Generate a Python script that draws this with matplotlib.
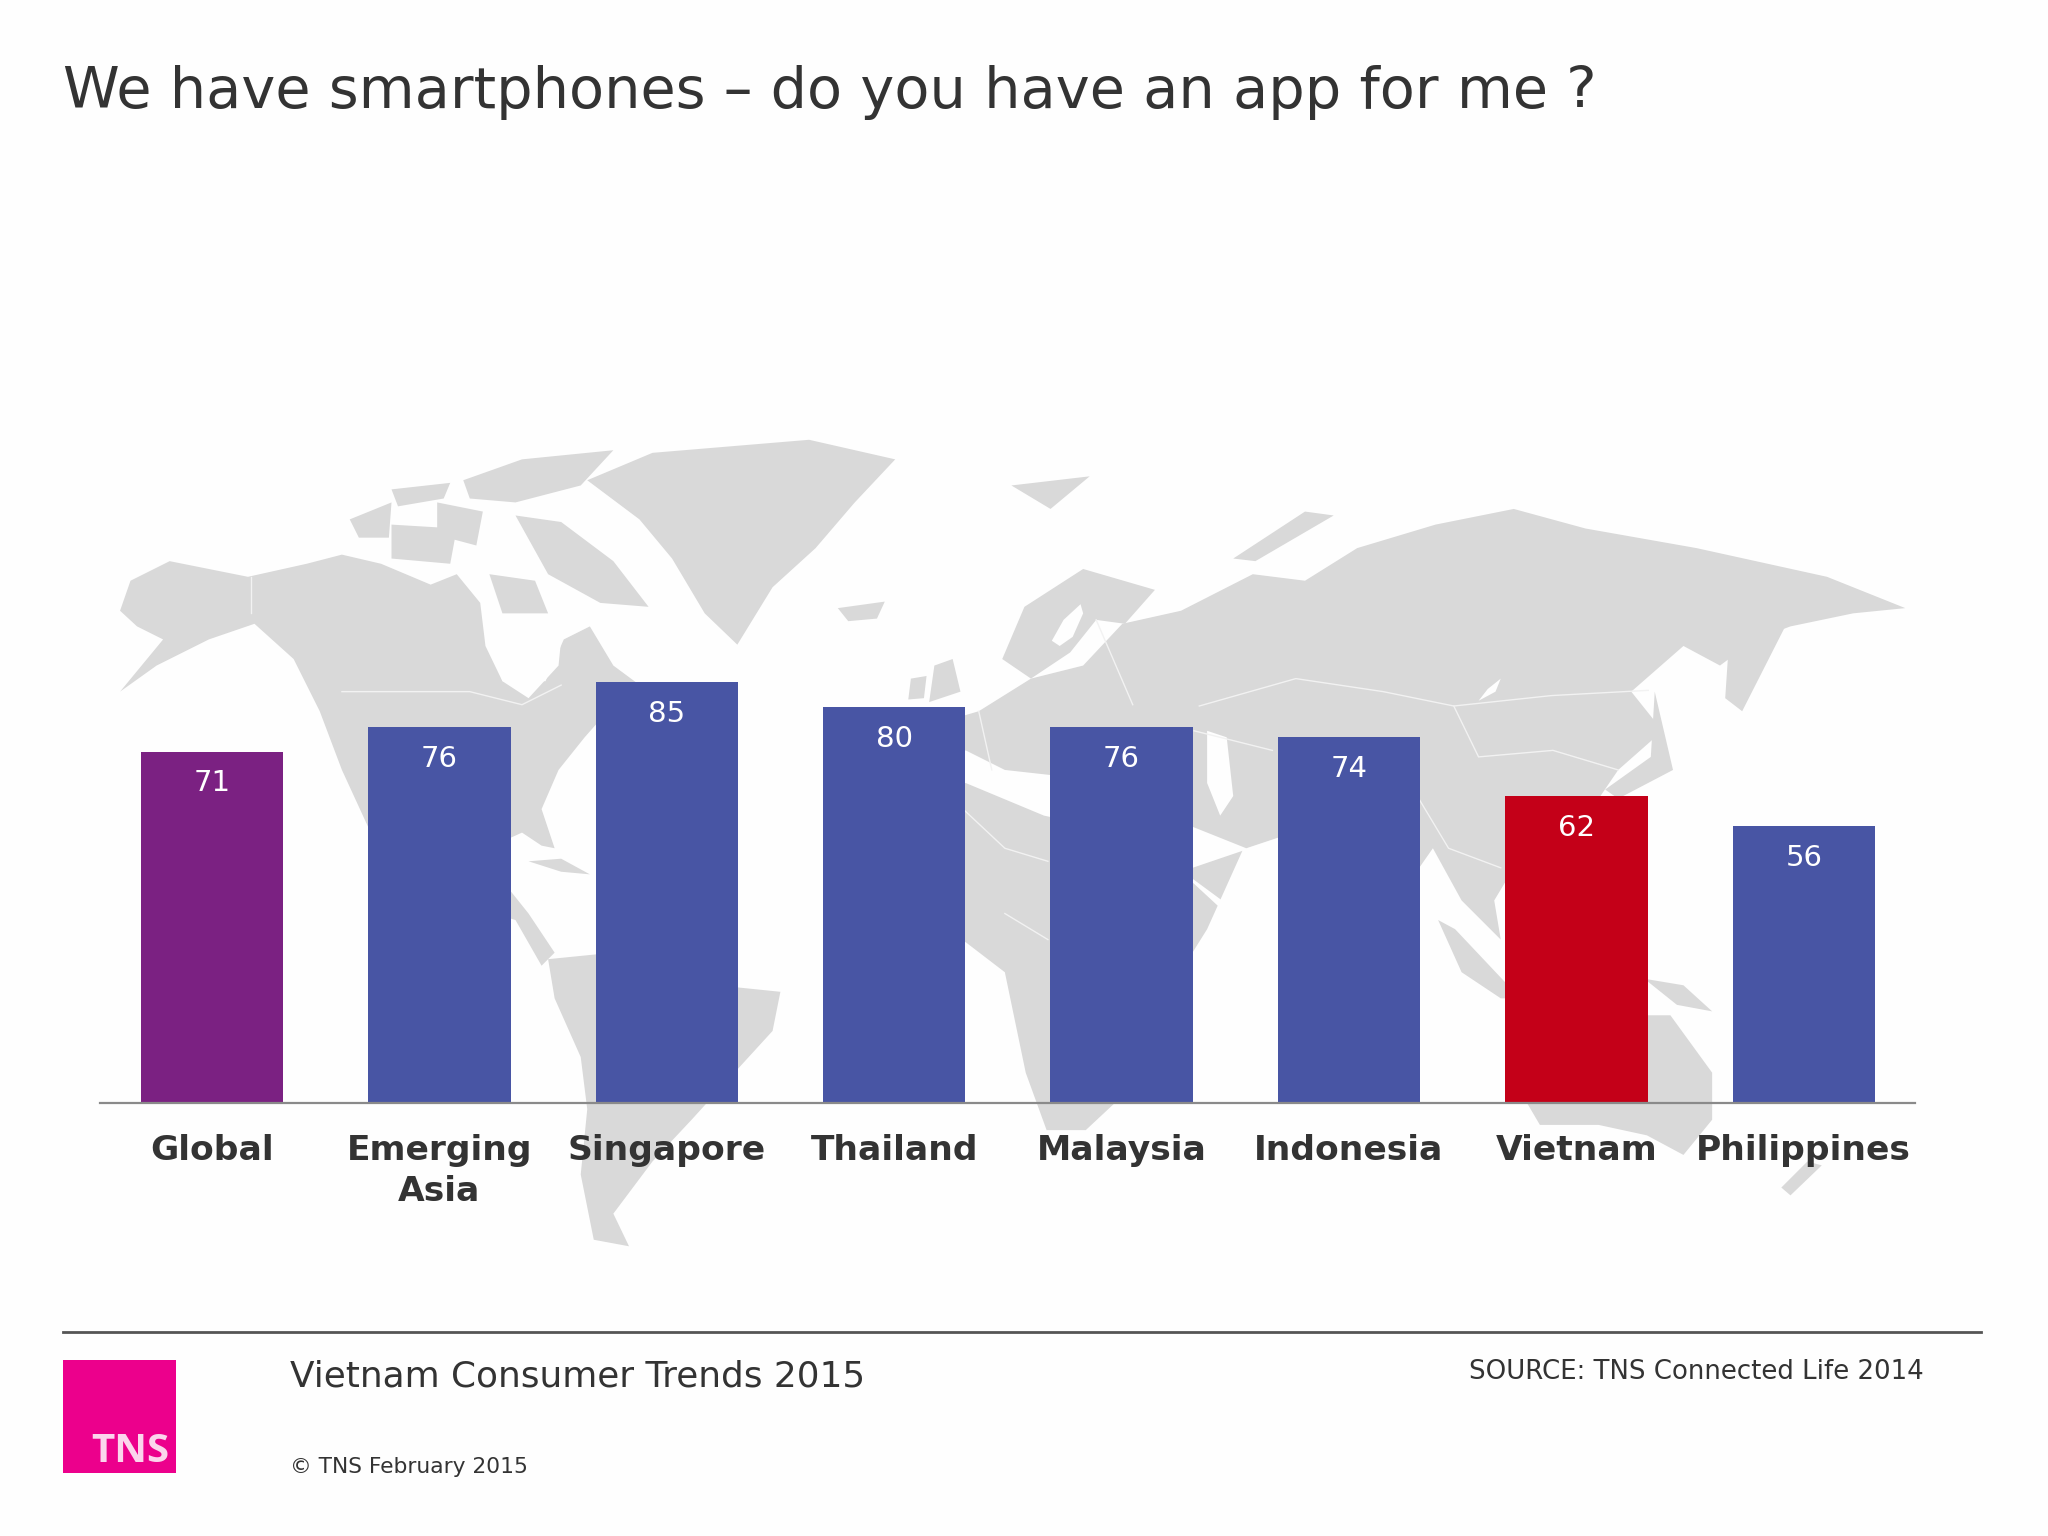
#!/usr/bin/env python3
# -*- coding: utf-8 -*-
import matplotlib
matplotlib.use("Agg")
import matplotlib.pyplot as plt
from matplotlib.patches import Polygon, Rectangle

categories = ["Global", "Emerging\nAsia", "Singapore", "Thailand", "Malaysia", "Indonesia", "Vietnam", "Philippines"]
values = [71, 76, 85, 80, 76, 74, 62, 56]
colors = ["#7B2182", "#4855A4", "#4855A4", "#4855A4", "#4855A4", "#4855A4", "#C40018", "#4855A4"]

title = "We have smartphones \u2013 do you have an app for me ?"
footer = "Vietnam Consumer Trends 2015"
source = "SOURCE: TNS Connected Life 2014"
copyright_text = "\u00a9 TNS February 2015"

# rough background map outlines, traced in px of the downsized view
north_america = [(92,468),(100,445),(130,430),(190,442),(235,432),(262,425),(292,432),(330,448),(350,440),(368,462),(372,495),(385,522),(418,522),(432,490),(452,480),(470,510),(497,530),(470,540),(448,565),(428,590),(415,620),(425,650),(415,648),(400,638),(378,648),(385,675),(405,700),(425,730),(415,740),(395,705),(345,690),(315,655),(285,640),(262,590),(245,545),(225,505),(195,478),(160,490),(120,510),(92,530),(125,490),(105,480)]
hudson = [(372,480),(405,478),(430,490),(428,510),(405,535),(385,522)]
greenland = [(450,368),(500,347),(620,337),(686,352),(655,385),(625,420),(592,450),(565,494),(540,470),(515,428),(490,398)]
ellesmere = [(355,368),(400,352),(470,345),(445,372),(395,385),(360,382)]
baffin = [(395,395),(430,400),(470,430),(497,465),(460,462),(420,440)]
victoria = [(300,402),(350,405),(345,432),(300,428)]
banks = [(268,398),(300,385),(298,412),(275,412)]
islands_n = [(335,385),(370,392),(365,418),(335,410)]
southampton = [(375,440),(410,445),(420,470),(385,470)]
parry = [(300,375),(345,370),(340,382),(305,388)]
iceland = [(642,466),(678,461),(672,474),(650,476)]
svalbard = [(775,372),(835,365),(805,390)]
britain = [(716,510),(730,505),(736,530),(712,538)]
ireland = [(698,520),(710,518),(708,535),(696,536)]
scandinavia = [(768,505),(785,465),(830,436),(885,452),(862,478),(840,475),(820,500),(790,520)]
eurasia = [(700,590),(716,555),(750,545),(790,520),(830,510),(860,478),(905,468),(960,440),(1000,445),(1040,420),(1100,402),(1160,390),(1215,405),(1300,420),(1400,442),(1460,466),(1420,470),(1372,480),(1345,490),(1318,510),(1290,495),(1250,530),(1274,560),(1240,590),(1225,612),(1180,625),(1160,665),(1145,690),(1150,720),(1120,690),(1098,650),(1070,690),(1052,700),(1030,640),(985,640),(955,650),(910,632),(860,600),(770,590),(740,575)]
kamchatka = [(1325,490),(1368,480),(1335,545),(1322,535)]
novaya = [(945,428),(1000,392),(1022,395),(962,430)]
japan = [(1268,530),(1282,590),(1240,612),(1230,605),(1265,580)]
africa = [(692,622),(740,600),(800,625),(870,640),(905,668),(952,652),(925,712),(895,760),(862,800),(862,838),(832,866),(802,866),(786,822),(770,745),(740,722),(682,712),(660,665)]
madagascar = [(868,790),(880,785),(870,840),(858,838)]
south_america = [(420,735),(470,730),(520,752),(598,760),(592,790),(560,825),(530,858),(500,890),(470,930),(482,955),(455,950),(445,900),(450,850),(445,810),(425,765)]
sumatra = [(1102,705),(1115,712),(1165,765),(1150,765),(1120,745)]
borneo = [(1165,705),(1260,700),(1262,745),(1165,760)]
new_guinea = [(1260,750),(1290,755),(1312,775),(1285,770)]
australia = [(1170,815),(1262,778),(1280,778),(1312,822),(1312,858),(1290,885),(1262,870),(1225,862),(1180,862),(1170,845)]
new_zealand = [(1385,890),(1396,893),(1372,916),(1365,910)]
cuba = [(405,660),(430,658),(452,670),(430,668)]
land = [north_america, greenland, ellesmere, baffin, victoria, banks, islands_n, southampton, parry, iceland, svalbard,
        britain, ireland, scandinavia, eurasia, kamchatka, novaya, japan, africa, madagascar, south_america,
        sumatra, borneo, new_guinea, australia, new_zealand, cuba]

caspian = [(925,560),(940,565),(945,610),(935,625),(925,600)]
baikal = [(1133,537),(1140,528),(1150,520),(1146,530)]
baltic = [(806,491),(815,475),(828,463),(830,470),(822,488),(812,495)]
red_sea = [(905,668),(912,672),(950,700),(945,705)]
water = [hudson, caspian, baikal, baltic, red_sea]

# country borders, thin white
borders = [
    [(192,442),(192,470)],
    [(262,530),(360,530),(400,540),(430,525)],
    [(919,541),(993,520),(1060,530),(1114,541),(1189,533),(1263,529)],
    [(1114,541),(1133,580),(1190,575),(1240,590)],
    [(1086,610),(1110,650),(1150,665)],
    [(750,545),(760,590)],
    [(738,620),(770,650),(803,660)],
    [(770,700),(803,720)],
    [(915,560),(975,575)],
    [(840,475),(868,540)],
]

W, H = 2048 / 1.305, 1536 / 1.305
fig = plt.figure(figsize=(20.48, 15.36), dpi=100, facecolor="#fefefe")

bg = fig.add_axes([0, 0, 1, 1])
bg.set_xlim(0, W)
bg.set_ylim(H, 0)
bg.axis("off")
for pts in land:
    bg.add_patch(Polygon(pts, closed=True, fc="#d9d9d9", ec="none", zorder=1))
for pts in water:
    bg.add_patch(Polygon(pts, closed=True, fc="#fefefe", ec="none", zorder=2))
for pts in borders:
    bg.plot([p[0] for p in pts], [p[1] for p in pts], color="#f2f2f2", lw=1, zorder=2)

# footer stuff
bg.text(48, 71, title, fontsize=41.3, color="#333333", va="center", ha="left")
bg.plot([48, 1518], [1021, 1021], color="#555555", lw=2)
bg.add_patch(Rectangle((48, 1042), 87, 87, fc="#EC008C", ec="none"))
bg.text(100, 1112, "TNS", fontsize=29, fontweight="bold", color="#fbd5ec", ha="center", va="center",
        family="Open Sans")
bg.text(222, 1055, footer, fontsize=25.8, color="#333333", va="center")
bg.text(1474, 1051, source, fontsize=18.75, color="#333333", va="center", ha="right")
bg.text(222, 1124, copyright_text, fontsize=15.7, color="#333333", va="center")

# bars
ax = fig.add_axes([100 / 2048, 1 - 1103 / 1536, (1915 - 100) / 2048, 495 / 1536])
ax.patch.set_alpha(0)
x = list(range(len(values)))
ax.bar(x, values, width=0.627, color=colors, zorder=3)
ax.set_xlim((100 - 212) / 227.4, (1915 - 212) / 227.4)
ax.set_ylim(0, 100)
for i, v in zip(x, values):
    ax.annotate(str(v), (i, v), xytext=(0, -23), textcoords="offset points", ha="center", va="center",
                color="white", fontsize=21, zorder=4)
ax.set_xticks(x)
ax.set_xticklabels(categories, fontsize=24.8, fontweight="bold", color="#333333", linespacing=1.33)
ax.tick_params(axis="x", length=0, pad=22)
ax.set_yticks([])
for s in ["top", "left", "right"]:
    ax.spines[s].set_visible(False)
ax.spines["bottom"].set_color("#8a8a8a")
ax.spines["bottom"].set_linewidth(1.6)
ax.spines["bottom"].set_zorder(5)

fig.savefig("out.png", dpi=100, facecolor=fig.get_facecolor())
